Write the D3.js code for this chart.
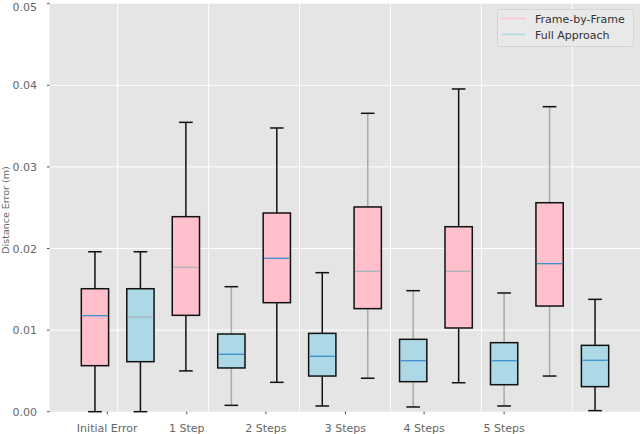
<!DOCTYPE html>
<meta charset="utf-8">
<title>Distance Error Boxplots</title>
<style>
body { margin: 0; background: #fff; }
text { font-family: "DejaVu Sans", sans-serif; }
</style>
<body>
<script src="https://cdn.jsdelivr.net/npm/d3@7"></script>
<script>

// one row per box: [low whisker, q1, median, q3, high whisker]
var frameByFrame = [
  [0.0000, 0.00564, 0.01177, 0.01507, 0.0196],
  [0.0050, 0.01181, 0.0177, 0.0239, 0.03546],
  [0.0036, 0.01336, 0.0188, 0.02435, 0.03477],
  [0.0041, 0.01263, 0.01721, 0.02509, 0.03657],
  [0.00355, 0.01026, 0.01721, 0.02267, 0.03955],
  [0.00437, 0.01295, 0.01814, 0.02561, 0.03738]
];
var fullApproach = [
  [0.0000, 0.00613, 0.0116, 0.01507, 0.0196],
  [0.00078, 0.00536, 0.00703, 0.00952, 0.01532],
  [0.0007, 0.00437, 0.00679, 0.0096, 0.01704],
  [0.00058, 0.00368, 0.00625, 0.00887, 0.01483],
  [0.0007, 0.00331, 0.00625, 0.00846, 0.01455],
  [0.00013, 0.00307, 0.0063, 0.00813, 0.01377]
];
var categories = ["Initial Error", "1 Step", "2 Steps", "3 Steps", "4 Steps", "5 Steps"];
var tickPositions = [1.27, 3.02, 4.76, 6.51, 8.24, 10.0];
var yTicks = [0, 0.01, 0.02, 0.03, 0.04, 0.05];
var seriesNames = ["Frame-by-Frame", "Full Approach"];

// rendering quirks of the source picture
var greyWhisker = [false, false, false, true, false, false, true, true, false, true, true, false];
var greyMedian = [false, true, true, false, false, false, true, false, true, false, false, false];

var w = 640, h = 434;
var fill = ["#ffc0cb", "#add8e6"];

var svg = d3.select("body").append("svg")
    .attr("width", w)
    .attr("height", h);

var x = d3.scaleLinear().domain([0, 13]).range([49.5, 640.5]);
var y = d3.scaleLinear().domain([0, 0.05]).range([411.7, 3.7]);

svg.append("rect")
    .attr("x", x(0)).attr("y", y(0.05))
    .attr("width", x(13) - x(0)).attr("height", y(0) - y(0.05))
    .attr("fill", "#e5e5e5");

// grid
svg.selectAll(".hgrid").data(yTicks.slice(1, 5))
  .enter().append("line")
    .attr("x1", x(0)).attr("x2", x(13))
    .attr("y1", function(d) { return y(d); }).attr("y2", function(d) { return y(d); })
    .attr("stroke", "#fff").attr("stroke-width", 1);
svg.selectAll(".vgrid").data(categories)
  .enter().append("line")
    .attr("x1", function(d, i) { return x(2 * i + 1.5); })
    .attr("x2", function(d, i) { return x(2 * i + 1.5); })
    .attr("y1", y(0.05)).attr("y2", y(0))
    .attr("stroke", "#fff").attr("stroke-width", 1);

// boxes
var boxes = [];
categories.forEach(function(c, i) {
  boxes.push({pos: 2 * i + 1, s: frameByFrame[i], k: 0});
  boxes.push({pos: 2 * i + 2, s: fullApproach[i], k: 1});
});

var bw = x(0.6) - x(0), cw = x(0.3) - x(0);

var g = svg.selectAll(".box").data(boxes)
  .enter().append("g");

g.each(function(d, i) {
  var el = d3.select(this), cx = x(d.pos);
  var wc = greyWhisker[i] ? "#aaaaaa" : "#111";
  el.append("line").attr("x1", cx).attr("x2", cx)
      .attr("y1", y(d.s[0])).attr("y2", y(d.s[1]))
      .attr("stroke", wc).attr("stroke-width", 1.5);
  el.append("line").attr("x1", cx).attr("x2", cx)
      .attr("y1", y(d.s[3])).attr("y2", y(d.s[4]))
      .attr("stroke", wc).attr("stroke-width", 1.5);
  [d.s[0], d.s[4]].forEach(function(v) {
    el.append("line").attr("x1", cx - cw / 2).attr("x2", cx + cw / 2)
        .attr("y1", y(v)).attr("y2", y(v))
        .attr("stroke", "#111").attr("stroke-width", 1.5);
  });
  el.append("rect")
      .attr("x", cx - bw / 2).attr("y", y(d.s[3]))
      .attr("width", bw).attr("height", y(d.s[1]) - y(d.s[3]))
      .attr("fill", fill[d.k]).attr("stroke", "#111").attr("stroke-width", 1.5);
  el.append("line").attr("x1", cx - bw / 2 + 1).attr("x2", cx + bw / 2 - 1)
      .attr("y1", y(d.s[2])).attr("y2", y(d.s[2]))
      .attr("stroke", greyMedian[i] ? "#a9b3b8" : "#3a8fd0").attr("stroke-width", 1.3);
});

// axes
svg.selectAll(".ylab").data(yTicks)
  .enter().append("text")
    .attr("x", 37).attr("y", function(d) { return Math.max(y(d) + 4, 11); })
    .attr("text-anchor", "end")
    .attr("font-size", 11).attr("fill", "#666")
    .text(function(d) { return d.toFixed(2); });
svg.selectAll(".ytick").data(yTicks)
  .enter().append("line")
    .attr("x1", 47).attr("x2", 49.5)
    .attr("y1", function(d) { return y(d); }).attr("y2", function(d) { return y(d); })
    .attr("stroke", "#444").attr("stroke-width", 1);
svg.selectAll(".xtick").data(tickPositions)
  .enter().append("line")
    .attr("x1", function(d) { return x(d); }).attr("x2", function(d) { return x(d); })
    .attr("y1", y(0)).attr("y2", y(0) + 2.5)
    .attr("stroke", "#444").attr("stroke-width", 1);
svg.selectAll(".xlab").data(categories)
  .enter().append("text")
    .attr("x", function(d, i) { return x(tickPositions[i]); })
    .attr("y", 432)
    .attr("text-anchor", "middle")
    .attr("font-size", 11).attr("fill", "#666")
    .text(function(d) { return d; });

svg.append("text")
    .attr("transform", "translate(9,210) rotate(-90)")
    .attr("text-anchor", "middle")
    .attr("font-size", 9.5).attr("fill", "#666")
    .text("Distance Error (m)");

// legend
var lg = svg.append("g");
lg.append("rect")
    .attr("x", 497.5).attr("y", 9.5).attr("width", 136).attr("height", 37)
    .attr("rx", 2)
    .attr("fill", "#e9e9e9").attr("stroke", "#d4d4d4").attr("stroke-width", 1);
seriesNames.forEach(function(n, i) {
  var ly = 18.5 + i * 16;
  lg.append("line").attr("x1", 502).attr("x2", 525)
      .attr("y1", ly).attr("y2", ly)
      .attr("stroke", fill[i]).attr("stroke-width", 1.5);
  lg.append("text").attr("x", 535).attr("y", ly + 4)
      .attr("font-size", 11).attr("fill", "#333")
      .text(n);
});

</script>
